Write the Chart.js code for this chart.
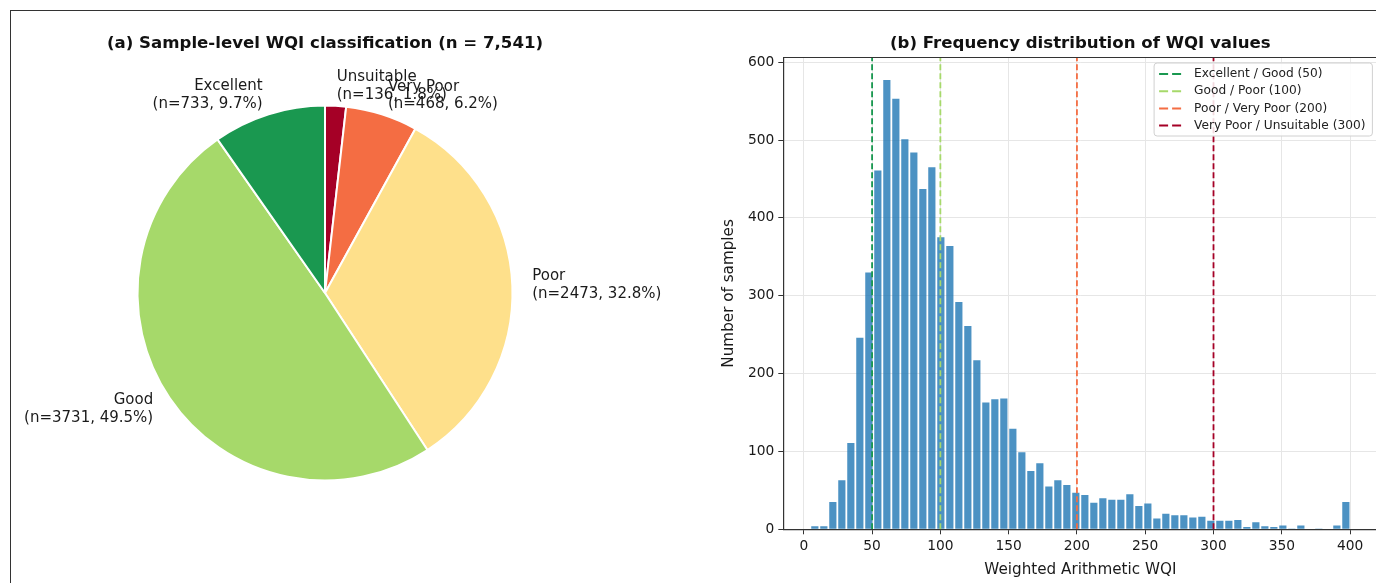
<!DOCTYPE html>
<html>
<head>
<meta charset="utf-8">
<script src="https://cdn.jsdelivr.net/npm/chart.js@4.4.0/dist/chart.umd.min.js"></script>
<style>
  html, body { margin: 0; padding: 0; background: #fff; overflow: hidden; width: 1376px; height: 583px; }
  #frame { position: absolute; left: 10px; top: 10px; width: 1400px; height: 600px;
           border-left: 1.5px solid #333; border-top: 1.5px solid #333; }
  canvas { position: absolute; top: 0; }
  #pie { left: -50px; }
  #hist { left: 700px; }
</style>
</head>
<body>
<div id="frame"></div>
<canvas id="pie" width="750" height="583"></canvas>
<canvas id="hist" width="700" height="583"></canvas>
<script>
// ---- data ----
const classNames = ['Excellent', 'Good', 'Poor', 'Very Poor', 'Unsuitable'];
const classCounts = [733, 3731, 2473, 468, 136];
const classColors = ['#1a9850', '#a6d96a', '#fee08b', '#f46d43', '#a50026'];
const totalSamples = 7541;

// histogram: 60 equal bins from binStart, counts
const binStart = 4.8;
const binWidth = 6.59;
const binCounts = [
  4, 4, 35, 63, 111, 246, 330, 461, 577, 553,
  501, 484, 437, 465, 375, 364, 292, 261, 217, 163,
  167, 168, 129, 99, 75, 85, 55, 63, 57, 47,
  44, 34, 40, 38, 38, 45, 30, 33, 14, 20,
  18, 18, 15, 16, 11, 11, 11, 12, 3, 9,
  4, 3, 5, 1, 5, 0, 1, 0, 5, 35
];
const thresholds = [50, 100, 200, 300];
const thresholdLabels = ['Excellent / Good (50)', 'Good / Poor (100)', 'Poor / Very Poor (200)', 'Very Poor / Unsuitable (300)'];
const thresholdColors = ['#1a9850', '#a6d96a', '#f46d43', '#a50026'];
const xTicks = [0, 50, 100, 150, 200, 250, 300, 350, 400];
const yTicks = [0, 100, 200, 300, 400, 500, 600];
const xMin = -15, xMax = 420, yMax = 606;

const FONT = '"DejaVu Sans", "Liberation Sans", sans-serif';
const TEXT = '#1a1a1a';

// ---- pie (a) ----
// matplotlib goes counter-clockwise from the top, Chart.js clockwise, so reverse
const pieOrder = classNames.map((_, i) => i).reverse();

const pieLabels = {
  id: 'pieLabels',
  afterDatasetsDraw(chart) {
    const ctx = chart.ctx;
    const meta = chart.getDatasetMeta(0);
    ctx.save();
    ctx.font = '15px ' + FONT;
    ctx.fillStyle = TEXT;
    ctx.textBaseline = 'middle';
    meta.data.forEach((arc, k) => {
      const i = pieOrder[k];
      const p = arc.getProps(['x', 'y', 'startAngle', 'endAngle', 'outerRadius'], true);
      const mid = (p.startAngle + p.endAngle) / 2;
      const r = (p.outerRadius + 1) * 1.1;
      const lx = p.x + Math.cos(mid) * r;
      const ly = p.y + Math.sin(mid) * r;
      const pct = (classCounts[i] / totalSamples * 100).toFixed(1);
      const lines = [classNames[i], '(n=' + classCounts[i] + ', ' + pct + '%)'];
      ctx.textAlign = Math.cos(mid) >= 0 ? 'left' : 'right';
      const lh = 17.5;
      lines.forEach((t, j) => ctx.fillText(t, lx, ly + (j - (lines.length - 1) / 2) * lh));
    });
    ctx.restore();
  }
};

new Chart(document.getElementById('pie').getContext('2d'), {
  type: 'pie',
  data: {
    labels: pieOrder.map(i => classNames[i]),
    datasets: [{
      data: pieOrder.map(i => classCounts[i]),
      backgroundColor: pieOrder.map(i => classColors[i]),
      borderColor: '#ffffff',
      borderWidth: 2,
      hoverOffset: 0
    }]
  },
  options: {
    responsive: false,
    animation: false,
    devicePixelRatio: 1,
    layout: { padding: { left: 0, right: 0, top: 0, bottom: 101.5 } },
    plugins: {
      legend: { display: false },
      tooltip: { enabled: false },
      title: {
        display: true,
        text: '(a) Sample-level WQI classification (n = 7,541)',
        color: '#111',
        font: { family: FONT, size: 16.6, weight: 'bold', lineHeight: 1.2 },
        padding: { top: 34, bottom: 50.6 }
      }
    }
  },
  plugins: [pieLabels]
});

// ---- histogram (b) ----
const barPoints = binCounts.map((c, i) => ({ x: binStart + binWidth * (i + 0.5), y: c }));

const lineSets = thresholds.map((t, i) => ({
  type: 'line',
  label: thresholdLabels[i],
  data: [{ x: t, y: 0 }, { x: t, y: yMax }],
  borderColor: thresholdColors[i],
  borderWidth: 1.8,
  borderDash: [6, 3],
  pointRadius: 0,
  fill: false,
  order: 0
}));

const histFrame = {
  id: 'histFrame',
  afterDraw(chart) {
    const { ctx, chartArea: a } = chart;
    ctx.save();
    ctx.strokeStyle = '#333';
    ctx.lineWidth = 1.2;
    ctx.beginPath();
    ctx.moveTo(a.left, a.top);
    ctx.lineTo(a.right, a.top);
    ctx.lineTo(a.right, a.bottom);
    ctx.stroke();
    ctx.restore();
  }
};

const histLegend = {
  id: 'histLegend',
  afterDraw(chart) {
    const { ctx, chartArea: a } = chart;
    const sets = chart.data.datasets.filter(d => d.type === 'line');
    ctx.save();
    ctx.font = '12.2px ' + FONT;
    const textW = Math.max(...sets.map(d => ctx.measureText(d.label).width));
    const pad = 5, handle = 22, gap = 13, rowH = 17.2;
    const w = pad + handle + gap + textW + 7;
    const h = 73;
    const x = a.right - 5 - w;
    const y = a.top + 5.5;
    ctx.beginPath();
    ctx.roundRect(x, y, w, h, 3);
    ctx.fillStyle = 'rgba(255,255,255,0.85)';
    ctx.fill();
    ctx.strokeStyle = '#d0d0d0';
    ctx.lineWidth = 1;
    ctx.stroke();
    ctx.textBaseline = 'middle';
    ctx.textAlign = 'left';
    sets.forEach((d, i) => {
      const cy = y + 11 + i * rowH;
      ctx.beginPath();
      ctx.setLineDash([9, 4]);
      ctx.strokeStyle = d.borderColor;
      ctx.lineWidth = 2;
      ctx.moveTo(x + pad, cy);
      ctx.lineTo(x + pad + handle, cy);
      ctx.stroke();
      ctx.setLineDash([]);
      ctx.fillStyle = '#222';
      ctx.fillText(d.label, x + pad + handle + gap, cy);
    });
    ctx.restore();
  }
};

new Chart(document.getElementById('hist').getContext('2d'), {
  type: 'bar',
  data: {
    datasets: [
      ...lineSets,
      {
        type: 'bar',
        label: 'samples',
        data: barPoints,
        backgroundColor: 'rgba(31,119,180,0.8)',
        borderWidth: 0,
        barPercentage: 0.8,
        categoryPercentage: 1,
        order: 1
      }
    ]
  },
  options: {
    responsive: false,
    animation: false,
    devicePixelRatio: 1,
    layout: { padding: { left: 0, right: 22.6, top: 0, bottom: 0 } },
    plugins: {
      legend: { display: false },
      tooltip: { enabled: false },
      title: {
        display: true,
        fullSize: false,
        text: '(b) Frequency distribution of WQI values',
        color: '#111',
        font: { family: FONT, size: 16.6, weight: 'bold', lineHeight: 1.2 },
        padding: { top: 34, bottom: 3.6 }
      }
    },
    scales: {
      x: {
        type: 'linear',
        min: xMin,
        max: xMax,
        offset: false,
        afterBuildTicks: s => { s.ticks = xTicks.map(v => ({ value: v })); },
        afterFit: s => { s.height = 53.7; },
        grid: { color: '#e6e6e6', offset: false, tickLength: 5, tickColor: '#333', tickWidth: 1 },
        border: { display: true, color: '#333', width: 1.2 },
        ticks: { color: TEXT, font: { family: FONT, size: 13.8 }, padding: 4, maxRotation: 0, autoSkip: false },
        title: {
          display: true,
          text: 'Weighted Arithmetic WQI',
          color: TEXT,
          font: { family: FONT, size: 15.2, lineHeight: 1.2 },
          padding: { top: 0, bottom: 4 }
        }
      },
      y: {
        min: 0,
        max: yMax,
        afterBuildTicks: s => { s.ticks = yTicks.map(v => ({ value: v })); },
        afterFit: s => { s.width = 83.3; },
        grid: { color: '#e6e6e6', tickLength: 5, tickColor: '#333', tickWidth: 1 },
        border: { display: true, color: '#333', width: 1.2 },
        ticks: { color: TEXT, font: { family: FONT, size: 13.8 }, padding: 4 },
        title: {
          display: true,
          text: 'Number of samples',
          color: TEXT,
          font: { family: FONT, size: 15.2, lineHeight: 1.2 },
          padding: { top: 20, bottom: 0 }
        }
      }
    }
  },
  plugins: [histFrame, histLegend]
});
</script>
</body>
</html>
